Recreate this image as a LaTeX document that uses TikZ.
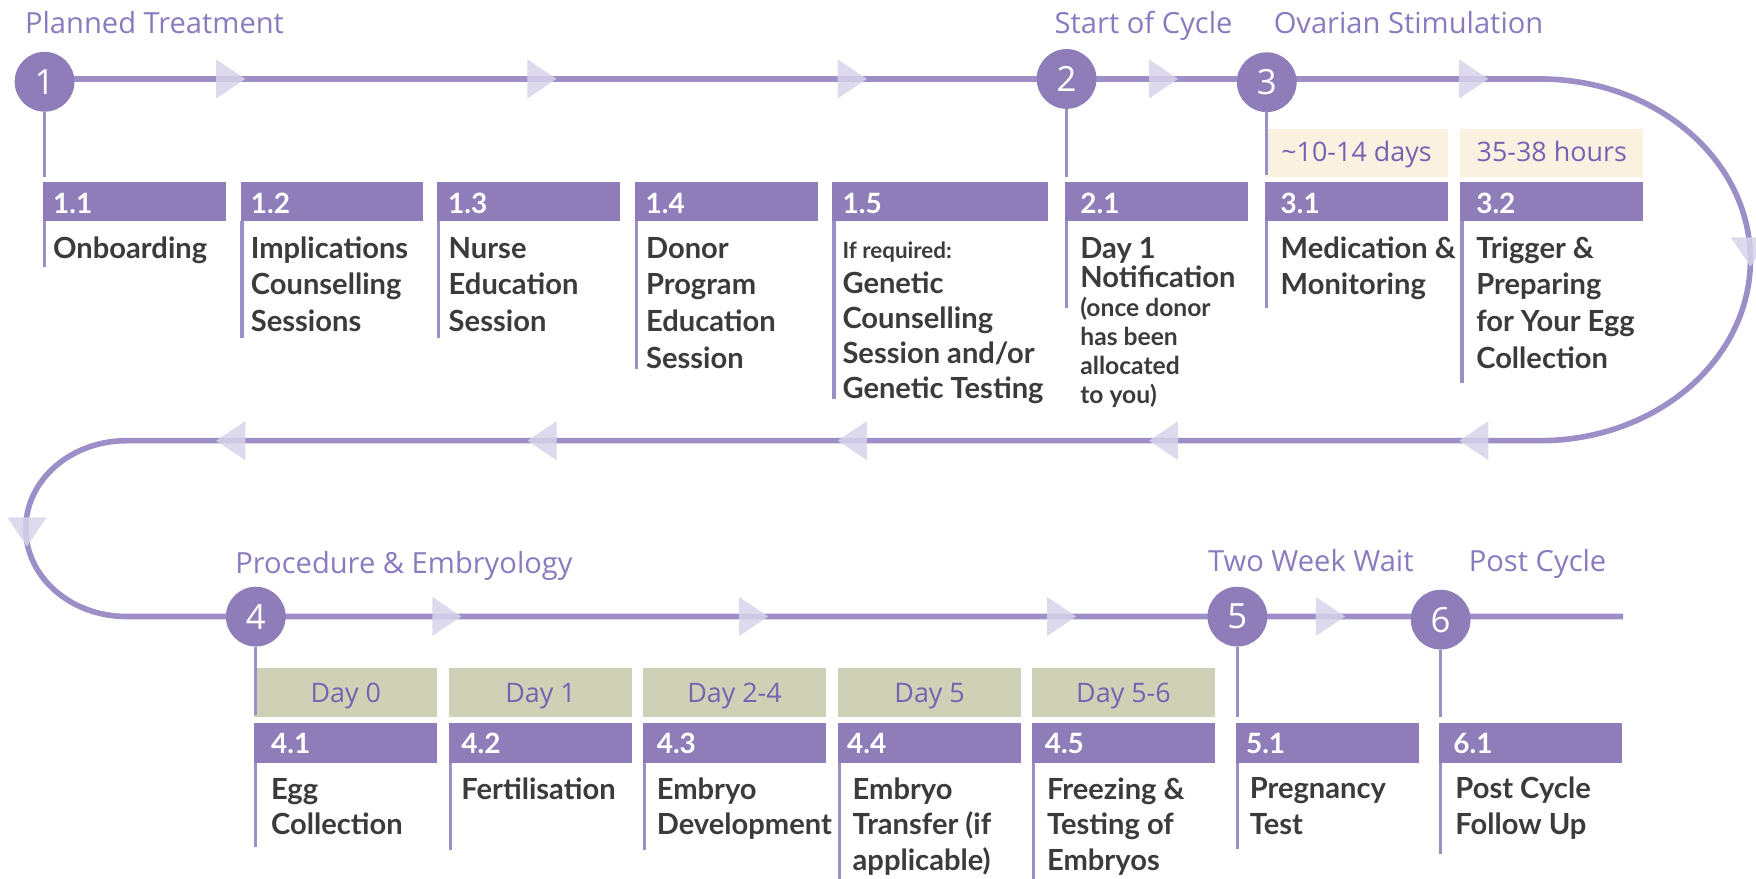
\documentclass[tikz,border=0pt]{standalone}
\usepackage{fontspec}
\setmainfont{Lato}
\newfontfamily\osans{Open Sans}
\pgfdeclarelayer{bg}
\pgfsetlayers{bg,main}

\definecolor{linecol}{HTML}{9C8EC6}
\definecolor{circfill}{HTML}{8E7DB8}
\definecolor{hdrfill}{HTML}{8F7DB9}
\definecolor{afill}{HTML}{D8D3EB}
\definecolor{titlecol}{HTML}{8A7AC0}
\definecolor{daytxt}{HTML}{7662B2}
\definecolor{creamfill}{HTML}{FBF1E1}
\definecolor{sagefill}{HTML}{CED1B6}
\definecolor{labelcol}{HTML}{3B3B3B}

% multi-line text block whose baseline is the first line; #1 = line pitch in pt
\newcommand\stack[2]{\vtop{\baselineskip=#1pt\lineskiplimit=-\maxdimen\lineskip=0pt\halign{##\hfil\cr#2\crcr}}}

\tikzset{
  rarrow/.pic={\fill[afill,fill opacity=0.85] (-13,-17.5) -- (13,0) -- (-13,17.5) -- cycle;},
  larrow/.pic={\fill[afill,fill opacity=0.85] (13,-17.5) -- (-13,0) -- (13,17.5) -- cycle;},
  darrow/.pic={\fill[afill,fill opacity=0.85] (-17.5,-13) -- (17.5,-13) -- (0,13) -- cycle;},
}

\begin{document}
\begin{tikzpicture}[x=1pt,y=-1pt,
  tline/.style={line width=5pt,draw=linecol},
  stem/.style={line width=3pt,draw=linecol},
  stepdot/.style={circle,fill=circfill,minimum size=53.4pt,inner sep=0pt,text=white,font=\osans\fontsize{31}{31}\selectfont},
  hdr/.style={fill=hdrfill,inner sep=0pt,anchor=north west,minimum height=35.2pt},
  num/.style={inner sep=0pt,anchor=base west,text=white,font=\bfseries\fontsize{25}{25}\selectfont},
  lbl/.style={inner sep=0pt,anchor=base west,text=labelcol,font=\bfseries\fontsize{26}{32}\selectfont},
  ttl/.style={inner sep=0pt,anchor=base west,text=titlecol,font=\osans\fontsize{26}{30}\selectfont},
  tagbox/.style={inner sep=0pt,anchor=north west,minimum height=43.2pt},
  tagtxt/.style={inner sep=0pt,anchor=base,text=daytxt,font=\osans\fontsize{24}{24}\selectfont},
]
\useasboundingbox (0,0) rectangle (1568,784);

% ---- phase titles
\node[ttl] (tt1) at (22.2,29.8) {Planned Treatment};
\node[ttl] (tt2) at (941.6,29.8) {Start of Cycle};
\node[ttl] (tt3) at (1137.2,29.8) {Ovarian Stimulation};
\node[ttl] (tt4) at (210,511.9) {Procedure \& Embryology};
\node[ttl] (tt5) at (1078.6,510.4) {Two Week Wait};
\node[ttl] (tt6) at (1311.4,510.4) {Post Cycle};

% ---- milestone dots
\node[stepdot] (c1) at (39.8,73) {1};
\node[stepdot] (c2) at (952.4,70.5) {2};
\node[stepdot] (c3) at (1131.1,73.4) {3};
\node[stepdot] (c4) at (228.4,550.6) {4};
\node[stepdot] (c5) at (1104.9,550.6) {5};
\node[stepdot] (c6) at (1286.4,553.3) {6};

% ---- duration tags
\node[tagbox,fill=creamfill,minimum width=162.9pt,minimum height=43.1pt] (t31) at (1129.6,114.6) {};
\node[tagbox,fill=creamfill,minimum width=163.2pt,minimum height=43.1pt] (t32) at (1303.8,114.6) {};
\node[tagtxt] (t31x) at ([yshift=-29.7pt]t31.north) {\textasciitilde10-14 days};
\node[tagtxt] (t32x) at ([yshift=-29.7pt]t32.north) {35-38 hours};

\node[tagbox,fill=sagefill,minimum width=163.3pt] (d41) at (226.9,596.7) {};
\node[tagbox,fill=sagefill,minimum width=163.2pt] (d42) at (400.8,596.7) {};
\node[tagbox,fill=sagefill,minimum width=163.3pt] (d43) at (574,596.7) {};
\node[tagbox,fill=sagefill,minimum width=163.4pt] (d44) at (748.2,596.7) {};
\node[tagbox,fill=sagefill,minimum width=163.7pt] (d45) at (921.1,596.7) {};
\node[tagtxt] (d41x) at ([yshift=-30.7pt]d41.north) {Day 0};
\node[tagtxt] (d42x) at ([yshift=-30.7pt]d42.north) {Day 1};
\node[tagtxt] (d43x) at ([yshift=-30.7pt]d43.north) {Day 2-4};
\node[tagtxt] (d44x) at ([yshift=-30.7pt]d44.north) {Day 5};
\node[tagtxt] (d45x) at ([yshift=-30.7pt]d45.north) {Day 5-6};

% ---- step headers (top row)
\node[hdr,minimum width=163.3pt] (h11) at (38.3,162) {};
\node[hdr,minimum width=162.6pt] (h12) at (214.6,162) {};
\node[hdr,minimum width=163.3pt] (h13) at (390.2,162) {};
\node[hdr,minimum width=163.4pt] (h14) at (567.1,162) {};
\node[hdr,minimum width=192.4pt] (h15) at (743.1,162) {};
\node[hdr,minimum width=163.1pt] (h21) at (950.9,162) {};
\node[hdr,minimum width=162.9pt] (h31) at (1129.6,162) {};
\node[hdr,minimum width=163.2pt] (h32) at (1303.8,162) {};
% ---- step headers (bottom row)
\node[hdr,minimum width=163.3pt] (h41) at (226.9,645.8) {};
\node[hdr,minimum width=163.2pt] (h42) at (400.8,645.8) {};
\node[hdr,minimum width=163.3pt] (h43) at (574,645.8) {};
\node[hdr,minimum width=163.4pt] (h44) at (748.2,645.8) {};
\node[hdr,minimum width=163.7pt] (h45) at (921.1,645.8) {};
\node[hdr,minimum width=163.2pt] (h51) at (1103.4,645.8) {};
\node[hdr,minimum width=162.8pt] (h61) at (1284.9,645.8) {};

% ---- step numbers
\node[num] (n11) at (47.3,190.5) {1.1};
\node[num] (n12) at (223.8,190.5) {1.2};
\node[num] (n13) at (400,190.5) {1.3};
\node[num] (n14) at (576.3,190.5) {1.4};
\node[num] (n15) at (752.3,190.5) {1.5};
\node[num] (n21) at (964.5,190.5) {2.1};
\node[num] (n31) at (1143.4,190.5) {3.1};
\node[num] (n32) at (1318,190.5) {3.2};
\node[num] (n41) at (241.9,673.2) {4.1};
\node[num] (n42) at (411.8,673.2) {4.2};
\node[num] (n43) at (586.3,673.2) {4.3};
\node[num] (n44) at (756.2,673.2) {4.4};
\node[num] (n45) at (932.7,673.2) {4.5};
\node[num] (n51) at (1112.4,673.2) {5.1};
\node[num] (n61) at (1297.6,673.2) {6.1};

% ---- step descriptions
\node[lbl] (l11) at (47.3,230.6) {\stack{32.7}{Onboarding}};
\node[lbl] (l12) at (223.8,230.6) {\stack{32.7}{Implications\cr Counselling\cr Sessions}};
\node[lbl] (l13) at (400.5,230.6) {\stack{32.7}{Nurse\cr Education\cr Session}};
\node[lbl] (l14) at (576.7,230.6) {\stack{32.7}{Donor\cr Program\cr Education\cr Session}};
\node[lbl] (l15) at (752.1,230.6) {\stack{31.4}{{\fontsize{20}{20}\selectfont If required:}\cr Genetic\cr Counselling\cr Session and/or\cr Genetic Testing}};
\node[lbl] (l21) at (964.5,230.6) {\stack{26}{Day 1\cr Notification\cr {\fontsize{22}{22}\selectfont (once donor}\cr {\fontsize{22}{22}\selectfont has been}\cr {\fontsize{22}{22}\selectfont allocated}\cr {\fontsize{22}{22}\selectfont to you)}}};
\node[lbl] (l31) at (1143.4,230.6) {\stack{32.7}{Medication \&\cr Monitoring}};
\node[lbl] (l32) at (1318,230.6) {\stack{32.7}{Trigger \&\cr Preparing\cr for Your Egg\cr Collection}};
\node[lbl] (l41) at (241.9,713.6) {\stack{31.9}{Egg\cr Collection}};
\node[lbl] (l42) at (411.8,713.6) {\stack{31.9}{Fertilisation}};
\node[lbl] (l43) at (586.3,713.6) {\stack{31.9}{Embryo\cr Development}};
\node[lbl] (l44) at (761.2,713.6) {\stack{31.9}{Embryo\cr Transfer (if\cr applicable)}};
\node[lbl] (l45) at (934.8,713.6) {\stack{31.9}{Freezing \&\cr Testing of\cr Embryos}};
\node[lbl] (l51) at (1115.8,713.2) {\stack{31.9}{Pregnancy\cr Test}};
\node[lbl] (l61) at (1299.4,713.2) {\stack{31.9}{Post Cycle\cr Follow Up}};

% ---- stems from the dots
\draw[stem] (c1) -- ([yshift=4.3pt]c1.center |- h11.north);
\draw[stem] (c2) -- ([yshift=4.3pt]c2.center |- h21.north);
\draw[stem] (c3) -- ([yshift=1.7pt]c3.center |- t31.south);
\draw[stem] (c4) -- ([yshift=1.5pt]c4.center |- d41.south);
\draw[stem] (c5) -- ([yshift=5.8pt]c5.center |- h51.north);
\draw[stem] (c6) -- ([yshift=5.8pt]c6.center |- h61.north);

% ---- left rules under each header
\draw[stem] ([xshift=1.5pt]h11.south west) -- ++(0,40.8);
\draw[stem] ([xshift=1.5pt]h12.south west) -- ++(0,103.8);
\draw[stem] ([xshift=1.5pt]h13.south west) -- ++(0,103.8);
\draw[stem] ([xshift=1.5pt]h14.south west) -- ++(0,131.8);
\draw[stem] ([xshift=1.5pt]h15.south west) -- ++(0,158.4);
\draw[stem] ([xshift=1.5pt]h21.south west) -- ++(0,77.8);
\draw[stem] ([xshift=1.5pt]h31.south west) -- ++(0,77.8);
\draw[stem] ([xshift=1.5pt]h32.south west) -- ++(0,144.4);
\draw[stem] ([xshift=1.5pt]h41.south west) -- ++(0,75);
\draw[stem] ([xshift=1.5pt]h42.south west) -- ++(0,78);
\draw[stem] ([xshift=1.5pt]h43.south west) -- ++(0,78);
\draw[stem] ([xshift=1.5pt]h44.south west) -- ++(0,105);
\draw[stem] ([xshift=1.5pt]h45.south west) -- ++(0,105);
\draw[stem] ([xshift=1.5pt]h51.south west) -- ++(0,77);
\draw[stem] ([xshift=1.5pt]h61.south west) -- ++(0,81.5);

% ---- the timeline and its direction marks
\begin{pgfonlayer}{bg}
\coordinate (rt) at (1375,70.5);
\coordinate (rm) at (1563,232);
\coordinate (rb) at (1375,393.5);
\coordinate (lt) at (113,393.5);
\coordinate (lm) at (23,472);
\coordinate (lb) at (113,550.5);
\coordinate (tend) at (1449.4,550.5);
\draw[tline] (c1.center |- rt) -- (rt)
  .. controls +(103.8,0) and +(0,-89.2) .. (rm)
  .. controls +(0,89.2) and +(103.8,0) .. (rb)
  -- (lt)
  .. controls +(-49.7,0) and +(0,-43.4) .. (lm)
  .. controls +(0,43.4) and +(-49.7,0) .. (lb)
  -- (tend);
\foreach \ax in {206,484,761,1039,1316} {
  \pic at (\ax,70.5) {rarrow};
  \pic at (\ax,393.5) {larrow};
}
\foreach \ax in {399,673,948,1188} {
  \pic at (\ax,550.5) {rarrow};
}
\pic at (1563,225) {darrow};
\pic at (24,475) {darrow};
\end{pgfonlayer}
\end{tikzpicture}
\end{document}
